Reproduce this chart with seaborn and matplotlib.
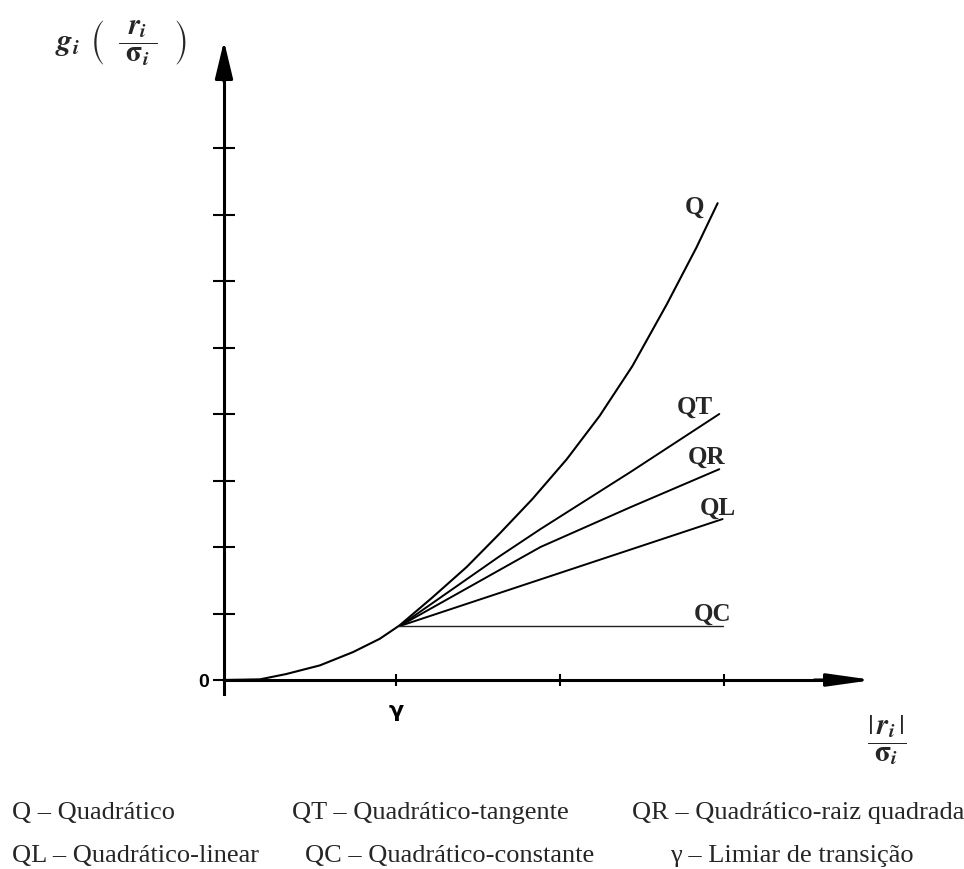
import matplotlib
matplotlib.use("Agg")
import matplotlib.pyplot as plt
import seaborn as sns
import pandas as pd

# ---------------- data (x in units of x tick spacing, y in units of y tick spacing)
q_x = [0.00, 0.22, 0.38, 0.585, 0.787, 0.95, 1.07, 1.27, 1.48, 1.68, 1.88, 2.09, 2.29, 2.49, 2.70, 2.88, 3.01]
q_y = [0.00, 0.01, 0.09, 0.22, 0.42, 0.62, 0.82, 1.24, 1.70, 2.20, 2.72, 3.32, 3.97, 4.72, 5.65, 6.50, 7.17]

qt_x = [1.07, 1.68, 1.93, 2.48, 3.02]
qt_y = [0.81, 1.86, 2.27, 3.13, 4.00]

qr_x = [1.07, 1.93, 2.48, 3.02]
qr_y = [0.81, 2.00, 2.60, 3.17]

ql_x = [1.07, 3.04]
ql_y = [0.81, 2.42]

qc_x = [1.07, 3.04]
qc_y = [0.81, 0.81]

curve_names = ["Q", "QT", "QR", "QL", "QC"]
y_ticks = [0, 1, 2, 3, 4, 5, 6, 7, 8]
y_tick_labels = ["0", "", "", "", "", "", "", "", ""]
x_ticks = [1.05, 2.05, 3.05]
x_tick_labels = ["\u03b3", "", ""]

legend_row1 = ["Q \u2013 Quadr\u00e1tico", "QT \u2013 Quadr\u00e1tico-tangente",
               "QR \u2013 Quadr\u00e1tico-raiz quadrada"]
legend_row2 = ["QL \u2013 Quadr\u00e1tico-linear", "QC \u2013 Quadr\u00e1tico-constante",
               "\u03b3 \u2013 Limiar de transi\u00e7\u00e3o"]

# ---------------- style
sns.set_theme(style="white")
plt.rcParams["font.family"] = ["Liberation Serif", "DejaVu Serif"]
plt.rcParams["mathtext.fontset"] = "stix"

W, H = 964, 870
X0, Y0, UX, UY = 224, 681, 164, 66.5  # pixel layout of the data frame

fig = plt.figure(figsize=(W / 100, H / 100), dpi=100)
ax = fig.add_axes([0, 0, 1, 1])
ax.set_xlim(-X0 / UX, (W - X0) / UX)
ax.set_ylim((Y0 - H) / UY, Y0 / UY)
ax.set_facecolor("white")

frames = [(q_x, q_y, 1.5, "black"), (qt_x, qt_y, 1.4, "black"), (qr_x, qr_y, 1.4, "black"),
          (ql_x, ql_y, 1.4, "black"), (qc_x, qc_y, 1.0, "#222222")]
for name, (xs, ys, lw, col) in zip(curve_names, frames):
    df = pd.DataFrame({"x": xs, "y": ys})
    sns.lineplot(data=df, x="x", y="y", ax=ax, color=col, lw=lw, sort=False,
                 estimator=None)
for ln in ax.get_lines():
    ln.set_solid_joinstyle("round")

# curve labels
label_pos = {"Q": (2.87, 7.13), "QT": (2.87, 4.11), "QR": (2.94, 3.37),
             "QL": (3.01, 2.60), "QC": (2.98, 1.00)}
for name in curve_names:
    lx, ly = label_pos[name]
    ax.text(lx, ly, name, fontsize=18, fontweight="bold", ha="center", va="center",
            family=["Liberation Serif"])

# axes as spines through the origin
for s in ["top", "right"]:
    ax.spines[s].set_visible(False)
ax.spines["left"].set_position(("data", 0))
ax.spines["bottom"].set_position(("data", 0))
ax.spines["left"].set_bounds(-0.21, 9.2)
ax.spines["bottom"].set_bounds(0, 3.7)
for s in ["left", "bottom"]:
    ax.spines[s].set_linewidth(2.2)
    ax.spines[s].set_color("black")

ax.set_yticks(y_ticks)
ax.set_yticklabels(y_tick_labels)
ax.set_xticks(x_ticks)
ax.set_xticklabels(x_tick_labels)
ax.tick_params(axis="y", left=True, direction="inout", length=15.8, width=1.5,
               color="black", pad=3, labelsize=14, labelcolor="black")
ax.tick_params(axis="x", bottom=True, direction="inout", length=8.6, width=1.5,
               color="black", pad=10, labelsize=16, labelcolor="black")
for lab in ax.get_yticklabels():
    lab.set_family(["Liberation Sans"])
    lab.set_fontweight("bold")
for lab in ax.get_xticklabels():
    lab.set_family(["DejaVu Sans"])
    lab.set_fontweight("bold")
ax.set_xlabel("")
ax.set_ylabel("")

# arrow heads
ax.annotate("", xy=(0, (Y0 - 42) / UY), xytext=(0, 9.0),
            arrowprops=dict(arrowstyle="-|>,head_length=2.3,head_width=0.55",
                            mutation_scale=10, lw=2.2, color="black",
                            shrinkA=0, shrinkB=0))
ax.annotate("", xy=((873 - X0) / UX, 0), xytext=(3.6, 0),
            arrowprops=dict(arrowstyle="-|>,head_length=2.7,head_width=0.38",
                            mutation_scale=10, lw=2.2, color="black",
                            shrinkA=0, shrinkB=0))

# axis titles
fig.text(55 / W, 1 - 44 / H, r"$\mathbfit{g}_{\mathbfit{i}}$", fontsize=22,
         ha="left", va="center")
fig.text(139 / W, 1 - 42 / H,
         r"$\left(\ \ \dfrac{\ \mathbfit{r}_{\mathbfit{i}}\ }{\ \mathbf{\sigma}_{\mathbfit{i}}\ }\ \ \right)$",
         fontsize=21, ha="center", va="center")
fig.text(887 / W, 1 - 740 / H,
         r"$\dfrac{|\,\mathbfit{r}_{\mathbfit{i}}\,|}{\mathbf{\sigma}_{\mathbfit{i}}}$",
         fontsize=21, ha="center", va="center")

# bottom legend text
row1_x = [12, 292, 632]
row2_x = [12, 305, 670]
for t, px in zip(legend_row1, row1_x):
    fig.text(px / W, 1 - 819 / H, t, fontsize=19, ha="left", va="baseline",
             family=["Liberation Serif", "DejaVu Serif"])
for t, px in zip(legend_row2, row2_x):
    fig.text(px / W, 1 - 862 / H, t, fontsize=19, ha="left", va="baseline",
             family=["Liberation Serif", "DejaVu Serif"])

fig.savefig("out.png", dpi=100, facecolor="white")
